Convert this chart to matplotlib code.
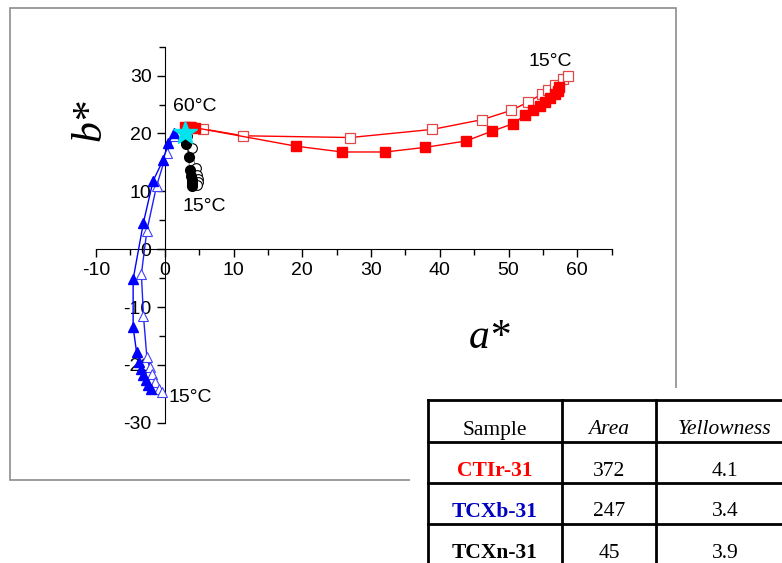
import matplotlib.pyplot as plt
from matplotlib.patches import Rectangle
from matplotlib.lines import Line2D
from matplotlib.ticker import MultipleLocator

# CTIr-31 (red squares)
red_fill_a = [2.9, 3.6, 4.4, 19.1, 25.8, 32.1, 37.9, 43.8, 47.6, 50.7, 52.4, 53.6, 54.5, 55.3, 56.0, 56.7, 57.2, 57.4]
red_fill_b = [21.2, 21.2, 21.0, 17.8, 16.8, 16.8, 17.6, 18.7, 20.4, 21.7, 23.2, 24.0, 24.7, 25.4, 26.1, 26.8, 27.4, 28.0]
red_open_a = [3.8, 5.5, 11.4, 27.0, 38.9, 46.2, 50.4, 52.8, 54.8, 55.8, 56.7, 57.9, 58.7]
red_open_b = [21.1, 20.8, 19.6, 19.3, 20.7, 22.4, 24.0, 25.4, 26.8, 27.6, 28.4, 29.4, 30.0]

# TCXb-31 (blue triangles)
blue_fill_a = [1.4, 0.5, -0.2, -1.7, -3.1, -4.6, -4.6, -4.1, -3.7, -3.4, -3.1, -2.8, -2.4, -2.0]
blue_fill_b = [20.0, 18.4, 15.5, 11.8, 4.6, -5.2, -13.5, -17.8, -19.5, -20.7, -21.8, -22.6, -23.4, -24.2]
blue_open_a = [1.3, 0.3, -1.2, -2.6, -3.4, -3.1, -2.6, -2.2, -1.8, -1.4, -0.9, -0.4]
blue_open_b = [19.5, 16.7, 10.9, 3.2, -4.3, -11.5, -18.7, -20.4, -21.6, -23.0, -24.1, -24.7]

# TCXn-31 (black circles)
black_fill_a = [2.9, 3.1, 3.5, 3.6, 3.8, 3.9, 4.0, 3.9]
black_fill_b = [19.0, 18.2, 15.9, 13.6, 12.7, 12.0, 11.4, 10.9]
black_open_a = [3.2, 3.9, 4.5, 4.7, 4.8, 4.9, 4.7]
black_open_b = [19.5, 17.5, 14.0, 12.8, 12.2, 11.6, 11.1]

# common point at 60 C
star_a = [2.9]
star_b = [20.1]

# table
samples = ["CTIr-31", "TCXb-31", "TCXn-31"]
sample_colors = ["#ff0000", "#0000c0", "#000000"]
areas = ["372", "247", "45"]
yellowness = ["4.1", "3.4", "3.9"]

W, H = 782, 563
fig = plt.figure(figsize=(W / 100, H / 100), dpi=100)


def fx(px):
    return px / W


def fy(py):
    return 1 - py / H


# grey frame around the chart
fig.patches.append(Rectangle((fx(10), fy(480)), fx(676) - fx(10), fy(8) - fy(480),
                             transform=fig.transFigure, fill=False,
                             edgecolor="#8c8c8c", linewidth=1.2, zorder=0))

ax = fig.add_axes([fx(96), fy(422.7), fx(611.7) - fx(96), fy(46.7) - fy(422.7)])
ax.set_facecolor("none")
ax.set_xlim(-10, 65)
ax.set_ylim(-30, 35)
for s in ["top", "right"]:
    ax.spines[s].set_visible(False)
ax.spines["left"].set_position(("data", 0))
ax.spines["bottom"].set_position(("data", 0))
ax.xaxis.set_minor_locator(MultipleLocator(5))
ax.yaxis.set_minor_locator(MultipleLocator(5))
ax.tick_params(which="major", direction="out", length=6, width=1)
ax.tick_params(which="minor", direction="out", length=4, width=1)
ax.set_xticks([t for t in range(-10, 61, 10)])
ax.set_yticks([t for t in range(-30, 31, 10)])
ax.set_xticklabels([str(t) for t in range(-10, 61, 10)], fontfamily="Liberation Sans", fontsize=14)
ax.set_yticklabels([str(t) for t in range(-30, 31, 10)], fontfamily="Liberation Sans", fontsize=14)

ms = 7
ax.plot(blue_open_a, blue_open_b, color="#2020ff", lw=1, marker="^", ms=ms,
        mfc="white", mec="#4040ff", mew=0.8, zorder=3)
ax.plot(blue_fill_a, blue_fill_b, color="#0000ff", lw=1, marker="^", ms=ms,
        mfc="#0000ff", mec="#0000ff", zorder=3)
ax.plot(black_open_a, black_open_b, color="#606060", lw=0.6, marker="o", ms=ms,
        mfc="white", mec="black", mew=0.8, zorder=4)
ax.plot(black_fill_a, black_fill_b, color="#606060", lw=0.6, marker="o", ms=ms,
        mfc="black", mec="black", zorder=4)
ax.plot(red_open_a, red_open_b, color="#ff0000", lw=1, marker="s", ms=ms,
        mfc="white", mec="#e04848", mew=0.9, zorder=5)
ax.plot(red_fill_a, red_fill_b, color="#ff0000", lw=1, marker="s", ms=ms,
        mfc="#ff0000", mec="#ff0000", zorder=5)
ax.plot(star_a, star_b, marker="*", ms=18, color="#00e5ee", mec="#00e5ee", ls="none", zorder=6)

ann = dict(fontsize=14, fontfamily="Liberation Sans")
ax.text(4.4, 24.6, "60°C", ha="center", va="center", **ann)
ax.text(5.8, 7.3, "15°C", ha="center", va="center", **ann)
ax.text(56.0, 32.5, "15°C", ha="center", va="center", **ann)
ax.text(0.6, -25.6, "15°C", ha="left", va="center", **ann)

fig.text(fx(490), fy(338), "a*", fontsize=30, fontstyle="italic",
         fontfamily="Liberation Serif", ha="center", va="center")
fig.text(fx(90), fy(120), "b*", fontsize=30, fontstyle="italic", rotation=90,
         fontfamily="Liberation Serif", ha="center", va="center")

# white block with the table on top of the frame corner
fig.patches.append(Rectangle((fx(410), 0), 1 - fx(410), fy(388), transform=fig.transFigure,
                             facecolor="white", edgecolor="none", zorder=10))

col_edges = [428, 562, 656, 784]
row_edges = [400, 442, 483, 524, 566]
for c in col_edges:
    fig.add_artist(Line2D([fx(c), fx(c)], [fy(row_edges[0]), fy(row_edges[-1])],
                          color="black", lw=2, zorder=11))
for r in row_edges:
    fig.add_artist(Line2D([fx(col_edges[0]), fx(col_edges[-1])], [fy(r), fy(r)],
                          color="black", lw=2, zorder=11))

centers = [495, 609, 725]
tkw = dict(fontfamily="Liberation Serif", fontsize=15.5, ha="center", va="center", zorder=12)
fig.text(fx(centers[0]), fy(430), "Sample", **tkw)
fig.text(fx(centers[1]), fy(430), "Area", fontstyle="italic", **tkw)
fig.text(fx(centers[2]), fy(430), "Yellowness", fontstyle="italic", **tkw)
for i in range(len(samples)):
    y = fy(row_edges[i + 1] + 29)
    fig.text(fx(centers[0]), y, samples[i], color=sample_colors[i], fontweight="bold", **tkw)
    fig.text(fx(centers[1]), y, areas[i], **tkw)
    fig.text(fx(centers[2]), y, yellowness[i], **tkw)

fig.savefig("out.png", dpi=100)
